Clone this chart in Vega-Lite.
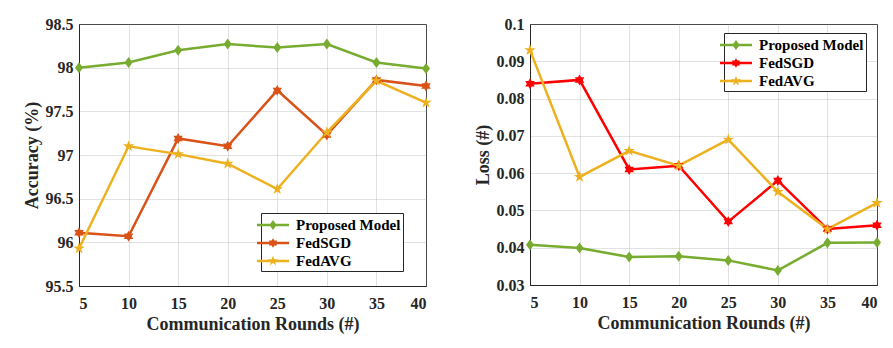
{
  "$schema": "https://vega.github.io/schema/vega-lite/v6.json",
  "background": "white",
  "padding": {"left": 22, "top": 15, "right": 5, "bottom": 5},
  "datasets": {
    "acc": [
      {"round": 5, "model": "Proposed Model", "value": 98.0},
      {"round": 10, "model": "Proposed Model", "value": 98.06},
      {"round": 15, "model": "Proposed Model", "value": 98.2},
      {"round": 20, "model": "Proposed Model", "value": 98.27},
      {"round": 25, "model": "Proposed Model", "value": 98.23},
      {"round": 30, "model": "Proposed Model", "value": 98.27},
      {"round": 35, "model": "Proposed Model", "value": 98.06},
      {"round": 40, "model": "Proposed Model", "value": 97.99},
      {"round": 5, "model": "FedSGD", "value": 96.11},
      {"round": 10, "model": "FedSGD", "value": 96.07},
      {"round": 15, "model": "FedSGD", "value": 97.19},
      {"round": 20, "model": "FedSGD", "value": 97.1},
      {"round": 25, "model": "FedSGD", "value": 97.74},
      {"round": 30, "model": "FedSGD", "value": 97.23},
      {"round": 35, "model": "FedSGD", "value": 97.86},
      {"round": 40, "model": "FedSGD", "value": 97.79},
      {"round": 5, "model": "FedAVG", "value": 95.93},
      {"round": 10, "model": "FedAVG", "value": 97.1},
      {"round": 15, "model": "FedAVG", "value": 97.01},
      {"round": 20, "model": "FedAVG", "value": 96.9},
      {"round": 25, "model": "FedAVG", "value": 96.61},
      {"round": 30, "model": "FedAVG", "value": 97.26},
      {"round": 35, "model": "FedAVG", "value": 97.85},
      {"round": 40, "model": "FedAVG", "value": 97.6}
    ],
    "loss": [
      {"round": 5, "model": "Proposed Model", "value": 0.0408},
      {"round": 10, "model": "Proposed Model", "value": 0.0399},
      {"round": 15, "model": "Proposed Model", "value": 0.0375},
      {"round": 20, "model": "Proposed Model", "value": 0.0377},
      {"round": 25, "model": "Proposed Model", "value": 0.0366},
      {"round": 30, "model": "Proposed Model", "value": 0.0339},
      {"round": 35, "model": "Proposed Model", "value": 0.0413},
      {"round": 40, "model": "Proposed Model", "value": 0.0414},
      {"round": 5, "model": "FedSGD", "value": 0.084},
      {"round": 10, "model": "FedSGD", "value": 0.085},
      {"round": 15, "model": "FedSGD", "value": 0.061},
      {"round": 20, "model": "FedSGD", "value": 0.062},
      {"round": 25, "model": "FedSGD", "value": 0.047},
      {"round": 30, "model": "FedSGD", "value": 0.058},
      {"round": 35, "model": "FedSGD", "value": 0.045},
      {"round": 40, "model": "FedSGD", "value": 0.046},
      {"round": 5, "model": "FedAVG", "value": 0.093},
      {"round": 10, "model": "FedAVG", "value": 0.059},
      {"round": 15, "model": "FedAVG", "value": 0.066},
      {"round": 20, "model": "FedAVG", "value": 0.062},
      {"round": 25, "model": "FedAVG", "value": 0.069},
      {"round": 30, "model": "FedAVG", "value": 0.055},
      {"round": 35, "model": "FedAVG", "value": 0.045},
      {"round": 40, "model": "FedAVG", "value": 0.052}
    ]
  },
  "config": {
    "font": "Liberation Serif",
    "view": {"stroke": "#262626", "strokeWidth": 1},
    "axis": {
      "labelFont": "Liberation Serif",
      "labelFontWeight": "bold",
      "labelFontSize": 16,
      "labelColor": "#262626",
      "labelOverlap": false,
      "titleFont": "Liberation Serif",
      "titleFontWeight": "bold",
      "titleFontSize": 18,
      "titleColor": "#262626",
      "gridColor": "#a0a0a0",
      "gridOpacity": 0.3,
      "domain": true,
      "domainColor": "#262626",
      "domainWidth": 1,
      "ticks": false,
      "labelPadding": 6,
      "titlePadding": 4
    },
    "axisX": {"labelPadding": 9, "titlePadding": 4},
    "legend": {
      "title": null,
      "orient": "none",
      "strokeColor": "#262626",
      "fillColor": "white",
      "padding": 2,
      "labelFont": "Liberation Serif",
      "labelFontWeight": "bold",
      "labelFontSize": 15,
      "labelColor": "#000000",
      "symbolSize": 400,
      "rowPadding": 0,
      "labelOffset": 13
    }
  },
  "bounds": "flush",
  "spacing": 104,
  "resolve": {"scale": {"color": "independent", "y": "independent"}},
  "hconcat": [
    {
      "width": 347,
      "height": 262,
      "data": {"name": "acc"},
      "encoding": {
        "x": {"field": "round", "type": "quantitative", "scale": {"domain": [5, 40], "nice": false}, "axis": {"values": [5, 10, 15, 20, 25, 30, 35, 40], "title": "Communication Rounds (#)"}},
        "y": {"field": "value", "type": "quantitative", "scale": {"domain": [95.5, 98.5], "nice": false, "zero": false}, "axis": {"values": [95.5, 96, 96.5, 97, 97.5, 98, 98.5], "format": "~f", "title": "Accuracy (%)"}}
      },
      "layer": [
        {
          "mark": {"type": "line", "strokeWidth": 2.5},
          "encoding": {
            "color": {
              "field": "model", "type": "nominal",
              "scale": {"domain": ["Proposed Model", "FedSGD", "FedAVG"], "range": ["#77AC30", "#D95319", "#EDB120"]},
              "legend": {
                "legendX": 182, "legendY": 189,
                "encode": {"symbols": {"update": {
                  "shape": {"signal": "datum.value === 'Proposed Model' ? 'M-1.6,-0.12H1.6V0.12H-1.6Z M0,-0.5L0.36,0L0,0.5L-0.36,0Z' : datum.value === 'FedSGD' ? 'M-1.6,-0.12H1.6V0.12H-1.6Z M0,-0.48L0.139,-0.24L0.416,-0.24L0.277,0L0.416,0.24L0.139,0.24L0,0.48L-0.139,0.24L-0.416,0.24L-0.277,0L-0.416,-0.24L-0.139,-0.24Z' : 'M-1.6,-0.12H1.6V0.12H-1.6Z M0,-0.55L0.124,-0.17L0.523,-0.17L0.2,0.065L0.323,0.445L0,0.21L-0.323,0.445L-0.2,0.065L-0.523,-0.17L-0.124,-0.17Z'"},
                  "fill": {"signal": "datum.value === 'Proposed Model' ? '#77AC30' : datum.value === 'FedSGD' ? '#D95319' : '#EDB120'"},
                  "stroke": {"value": "transparent"},
                  "strokeWidth": {"value": 0},
                  "opacity": {"value": 1}
                }}}
              }
            }
          }
        },
        {
          "transform": [{"filter": "datum.model === 'Proposed Model'"}],
          "mark": {"type": "point", "filled": true, "size": 150, "opacity": 1, "color": "#77AC30", "shape": "M0,-0.9L0.65,0L0,0.9L-0.65,0Z"}
        },
        {
          "transform": [{"filter": "datum.model === 'FedSGD'"}],
          "mark": {"type": "point", "filled": true, "size": 120, "opacity": 1, "color": "#D95319", "shape": "M0,-1L0.289,-0.5L0.866,-0.5L0.577,0L0.866,0.5L0.289,0.5L0,1L-0.289,0.5L-0.866,0.5L-0.577,0L-0.866,-0.5L-0.289,-0.5Z"}
        },
        {
          "transform": [{"filter": "datum.model === 'FedAVG'"}],
          "mark": {"type": "point", "filled": true, "size": 150, "opacity": 1, "color": "#EDB120", "shape": "M0,-1L0.225,-0.309L0.951,-0.309L0.363,0.118L0.588,0.809L0,0.382L-0.588,0.809L-0.363,0.118L-0.951,-0.309L-0.225,-0.309Z"}
        }
      ]
    },
    {
      "width": 347,
      "height": 261,
      "data": {"name": "loss"},
      "encoding": {
        "x": {"field": "round", "type": "quantitative", "scale": {"domain": [5, 40], "nice": false}, "axis": {"values": [5, 10, 15, 20, 25, 30, 35, 40], "title": "Communication Rounds (#)"}},
        "y": {"field": "value", "type": "quantitative", "scale": {"domain": [0.03, 0.1], "nice": false, "zero": false}, "axis": {"values": [0.03, 0.04, 0.05, 0.06, 0.07, 0.08, 0.09, 0.1], "format": "~f", "title": "Loss (#)"}}
      },
      "layer": [
        {
          "mark": {"type": "line", "strokeWidth": 2.5},
          "encoding": {
            "color": {
              "field": "model", "type": "nominal",
              "scale": {"domain": ["Proposed Model", "FedSGD", "FedAVG"], "range": ["#77AC30", "#FF0000", "#EDB120"]},
              "legend": {
                "legendX": 194, "legendY": 9,
                "encode": {"symbols": {"update": {
                  "shape": {"signal": "datum.value === 'Proposed Model' ? 'M-1.6,-0.12H1.6V0.12H-1.6Z M0,-0.5L0.36,0L0,0.5L-0.36,0Z' : datum.value === 'FedSGD' ? 'M-1.6,-0.12H1.6V0.12H-1.6Z M0,-0.48L0.139,-0.24L0.416,-0.24L0.277,0L0.416,0.24L0.139,0.24L0,0.48L-0.139,0.24L-0.416,0.24L-0.277,0L-0.416,-0.24L-0.139,-0.24Z' : 'M-1.6,-0.12H1.6V0.12H-1.6Z M0,-0.55L0.124,-0.17L0.523,-0.17L0.2,0.065L0.323,0.445L0,0.21L-0.323,0.445L-0.2,0.065L-0.523,-0.17L-0.124,-0.17Z'"},
                  "fill": {"signal": "datum.value === 'Proposed Model' ? '#77AC30' : datum.value === 'FedSGD' ? '#FF0000' : '#EDB120'"},
                  "stroke": {"value": "transparent"},
                  "strokeWidth": {"value": 0},
                  "opacity": {"value": 1}
                }}}
              }
            }
          }
        },
        {
          "transform": [{"filter": "datum.model === 'Proposed Model'"}],
          "mark": {"type": "point", "filled": true, "size": 150, "opacity": 1, "color": "#77AC30", "shape": "M0,-0.9L0.65,0L0,0.9L-0.65,0Z"}
        },
        {
          "transform": [{"filter": "datum.model === 'FedSGD'"}],
          "mark": {"type": "point", "filled": true, "size": 120, "opacity": 1, "color": "#FF0000", "shape": "M0,-1L0.289,-0.5L0.866,-0.5L0.577,0L0.866,0.5L0.289,0.5L0,1L-0.289,0.5L-0.866,0.5L-0.577,0L-0.866,-0.5L-0.289,-0.5Z"}
        },
        {
          "transform": [{"filter": "datum.model === 'FedAVG'"}],
          "mark": {"type": "point", "filled": true, "size": 150, "opacity": 1, "color": "#EDB120", "shape": "M0,-1L0.225,-0.309L0.951,-0.309L0.363,0.118L0.588,0.809L0,0.382L-0.588,0.809L-0.363,0.118L-0.951,-0.309L-0.225,-0.309Z"}
        }
      ]
    }
  ]
}
